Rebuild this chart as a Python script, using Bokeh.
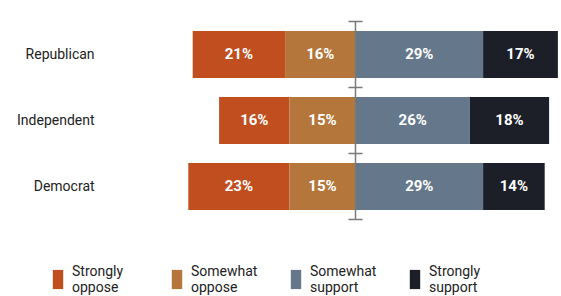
import numpy as np
from bokeh.plotting import figure
from bokeh.models import ColumnDataSource, Range1d, Legend, LegendItem
from bokeh.core.properties import value
from bokeh.embed import file_html
from bokeh.resources import INLINE

categories = ["Republican", "Independent", "Democrat"]
strongly_oppose = [21, 16, 23]
somewhat_oppose = [16, 15, 15]
somewhat_support = [29, 26, 29]
strongly_support = [17, 18, 14]
series_names = ["Strongly\noppose", "Somewhat\noppose", "Somewhat\nsupport", "Strongly\nsupport"]
colors = ["#C14E1F", "#B4763A", "#65788B", "#1C1F27"]

so = np.array(strongly_oppose)
wo = np.array(somewhat_oppose)
ws = np.array(somewhat_support)
ss = np.array(strongly_support)
lefts = [-(so + wo), -wo, np.zeros_like(ws), ws]
rights = [-wo, np.zeros_like(wo), ws, ws + ss]
vals = [so, wo, ws, ss]

n = len(categories)
ypos = np.arange(n)[::-1] + 0.5          # Republican on top
FONT = "Roboto"
LABEL_X = -59.3                          # right edge of category labels

p = figure(width=561, height=296,
           x_range=Range1d(-80.68, 46.82),
           y_range=Range1d(-1.167, 3.318),
           output_backend="svg", toolbar_location=None,
           min_border=0)
p.outline_line_color = None
p.xgrid.visible = False
p.ygrid.visible = False
p.xaxis.visible = False
p.yaxis.visible = False

renderers = []
for i in range(4):
    src = ColumnDataSource(dict(
        y=ypos, left=lefts[i], right=rights[i],
        mid=(lefts[i] + rights[i]) / 2.0,
        lab=[f"{v}%" for v in vals[i]]))
    r = p.hbar(y="y", left="left", right="right", height=0.71, source=src,
               fill_color=colors[i], line_color=None)
    renderers.append(r)
    p.text(x="mid", y="y", text="lab", source=src, text_align="center",
           text_baseline="middle", text_color="white", text_font=value(FONT),
           text_font_style="bold", text_font_size="15px")

p.text(x=[LABEL_X] * n, y=ypos, text=categories, text_align="right",
       text_baseline="middle", text_color="#222222", text_font=value(FONT),
       text_font_size="14px")

# center axis with ticks at category boundaries
bounds = list(range(n + 1))
p.segment(x0=[0], y0=[bounds[0]], x1=[0], y1=[bounds[-1]], line_color="#7a7a7a", line_width=1.5)
p.segment(x0=[-1.6] * len(bounds), y0=bounds, x1=[1.6] * len(bounds), y1=bounds,
          line_color="#7a7a7a", line_width=1.5)

legend = Legend(items=[LegendItem(label=series_names[i], renderers=[renderers[i]]) for i in range(4)],
                orientation="horizontal", location=(51, 1),
                glyph_width=13, glyph_height=24, label_standoff=8, label_width=98,
                spacing=0, padding=0, margin=0, border_line_color=None,
                background_fill_alpha=0, label_text_font=FONT,
                label_text_font_size="14px", label_text_color="#222222")
p.add_layout(legend, "center")

open("out.html", "w").write(file_html(p, INLINE))
